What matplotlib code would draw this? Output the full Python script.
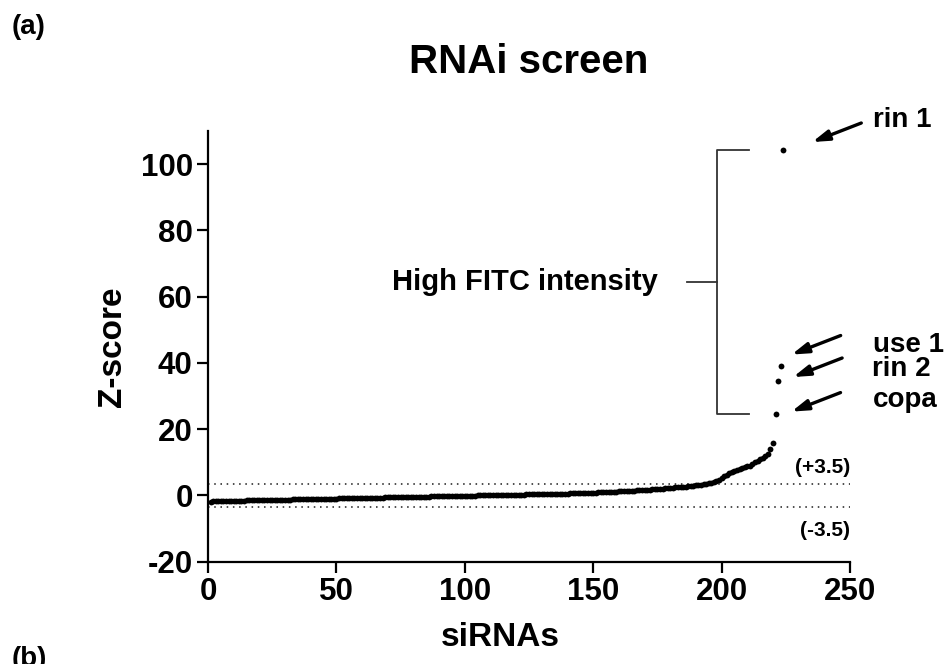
import numpy as np
import matplotlib
matplotlib.use("Agg")
import matplotlib.pyplot as plt
from matplotlib.transforms import offset_copy

plt.rcParams["font.family"] = ["Liberation Sans", "DejaVu Sans"]
plt.rcParams["font.weight"] = "bold"
plt.rcParams["axes.unicode_minus"] = False

# Z-scores of the siRNA library, sorted ascending (rank 1..220)
zscores = [
    -1.85, -1.80, -1.77, -1.74, -1.72, -1.70, -1.68, -1.66, -1.64, -1.62,
    -1.60, -1.58, -1.57, -1.55, -1.53, -1.51, -1.50, -1.48, -1.46, -1.45,
    -1.43, -1.41, -1.40, -1.38, -1.36, -1.35, -1.33, -1.31, -1.30, -1.28,
    -1.26, -1.25, -1.23, -1.21, -1.20, -1.18, -1.16, -1.15, -1.13, -1.11,
    -1.10, -1.08, -1.06, -1.05, -1.03, -1.01, -1.00, -0.98, -0.96, -0.95,
    -0.93, -0.91, -0.90, -0.88, -0.86, -0.85, -0.83, -0.81, -0.80, -0.78,
    -0.76, -0.75, -0.73, -0.71, -0.70, -0.68, -0.66, -0.65, -0.63, -0.61,
    -0.60, -0.58, -0.56, -0.55, -0.53, -0.51, -0.50, -0.48, -0.46, -0.45,
    -0.43, -0.41, -0.40, -0.38, -0.36, -0.35, -0.33, -0.31, -0.30, -0.28,
    -0.26, -0.25, -0.23, -0.21, -0.20, -0.18, -0.16, -0.15, -0.13, -0.11,
    -0.10, -0.08, -0.06, -0.05, -0.03, -0.01, 0.00, 0.02, 0.04, 0.05,
    0.07, 0.09, 0.10, 0.12, 0.14, 0.15, 0.17, 0.19, 0.20, 0.22,
    0.24, 0.25, 0.27, 0.29, 0.30, 0.32, 0.34, 0.35, 0.37, 0.39,
    0.40, 0.42, 0.44, 0.45, 0.47, 0.49, 0.51, 0.53, 0.55, 0.57,
    0.59, 0.61, 0.64, 0.66, 0.69, 0.72, 0.75, 0.78, 0.81, 0.84,
    0.87, 0.90, 0.94, 0.97, 1.01, 1.05, 1.09, 1.13, 1.17, 1.21,
    1.25, 1.29, 1.33, 1.37, 1.41, 1.46, 1.51, 1.56, 1.61, 1.66,
    1.71, 1.76, 1.81, 1.87, 1.93, 1.99, 2.05, 2.11, 2.18, 2.25,
    2.32, 2.39, 2.46, 2.53, 2.60, 2.68, 2.76, 2.84, 2.92, 3.00,
    3.10, 3.20, 3.30, 3.45, 3.60, 3.80, 4.05, 4.35, 4.70, 5.20,
    5.80, 6.30, 6.70, 7.10, 7.40, 7.70, 8.00, 8.30, 8.55, 8.80,
    9.00, 9.40, 10.00, 10.50, 10.90, 11.40, 11.90, 12.50, 14.00, 15.70,
]

# Top hits (high FITC intensity), continuing the ranking
hit_names = ["copa", "rin 2", "use 1", "rin 1"]
hit_scores = [24.7, 34.5, 38.9, 104.2]

threshold = 3.5
x_ticks = [0, 50, 100, 150, 200, 250]
y_ticks = [-20, 0, 20, 40, 60, 80, 100]

all_scores = zscores + hit_scores
ranks = np.arange(1, len(all_scores) + 1)
hit_ranks = ranks[len(zscores):]

fig = plt.figure(figsize=(9.51, 6.64), dpi=100)
ax = fig.add_axes([0.2187, 0.1541, 0.6751, 0.6488])

ax.plot(ranks, all_scores, linestyle="none", marker="o", ms=4.2,
        color="black", markeredgewidth=0)

# +/- threshold guides
ax.hlines([threshold, -threshold], 0, 250, colors="#4d4d4d",
          linewidth=1.4, linestyles=[(0, (0.8, 2.4))], zorder=1)
ax.text(250, 8.5, "(+3.5)", ha="right", va="center", fontsize=15)
ax.text(250, -10.6, "(-3.5)", ha="right", va="center", fontsize=15)

ax.set_xlim(0, 250)
ax.set_ylim(-20, 110)
ax.set_xticks(x_ticks)
ax.set_yticks(y_ticks)
for side in ("top", "right"):
    ax.spines[side].set_visible(False)
for side in ("left", "bottom"):
    ax.spines[side].set_linewidth(1.6)
ax.tick_params(axis="both", length=8, width=1.6, labelsize=22.5, pad=3)
for lab in ax.get_xticklabels() + ax.get_yticklabels():
    lab.set_fontweight("bold")

ax.set_xlabel("siRNAs", fontsize=24, fontweight="bold")
ax.set_ylabel("Z-score", fontsize=24, fontweight="bold")
ax.xaxis.set_label_coords(0.455, -0.175)
ax.xaxis.label.set_va("center")
ax.yaxis.set_label_coords(-0.148, 0.5)
ax.yaxis.label.set_va("center")

# Bracket spanning the hits
top, bottom = max(hit_scores), min(hit_scores)
mid = (top + bottom) / 2
bx, bx_end, bx_tick = 198.1, 210.7, 186.5
ax.plot([bx_end, bx, bx, bx_end], [top, top, bottom, bottom],
        color="#333333", lw=1.3, clip_on=False)
ax.plot([bx_tick, bx], [mid, mid], color="#333333", lw=1.3, clip_on=False)
ax.annotate("High FITC intensity", xy=(bx_tick, mid), xytext=(-21, 0),
            textcoords="offset points", ha="right", va="center",
            fontsize=21, fontweight="bold")

# Arrows and names for each hit
head_offsets = {"rin 1": (20.9, 5.8), "use 1": (7.9, 8.6),
                "rin 2": (10.8, 2.9), "copa": (11.5, 1.4)}
label_offsets = {"rin 1": (64.6, 16.5), "use 1": (66.5, 10.5),
                 "rin 2": (67.9, 3.5), "copa": (69.8, 5.0)}
for name, xr, yv in zip(hit_names, hit_ranks, hit_scores):
    hdx, hdy = head_offsets[name]
    head_tr = offset_copy(ax.transData, fig=fig, x=hdx, y=hdy, units="points")
    ax.annotate("", xy=(xr, yv), xycoords=head_tr,
                xytext=(35.3, 13.7), textcoords="offset points",
                arrowprops=dict(arrowstyle="-|>,head_length=0.7,head_width=0.22",
                                lw=2.4, color="black", shrinkA=0, shrinkB=0,
                                mutation_scale=14),
                annotation_clip=False)
    ldx, ldy = label_offsets[name]
    ax.annotate(name, xy=(xr, yv), xytext=(ldx, ldy),
                textcoords="offset points", ha="left", va="baseline",
                fontsize=20, fontweight="bold", annotation_clip=False)

fig.text(0.556, 1 - 62 / 664, "RNAi screen", ha="center", va="center",
         fontsize=29, fontweight="bold")
fig.text(12 / 951, 1 - 34 / 664, "(a)", ha="left", va="baseline",
         fontsize=20, fontweight="bold")
fig.text(12 / 951, 1 - 646 / 664, "(b)", ha="left", va="top",
         fontsize=20, fontweight="bold")

fig.savefig("out.png", dpi=100)
